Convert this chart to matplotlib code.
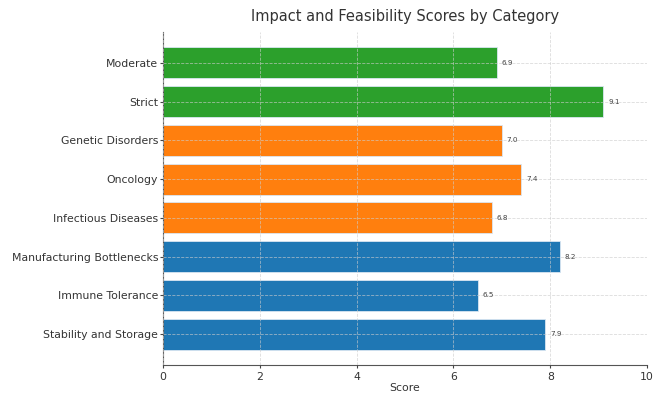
import matplotlib.pyplot as plt

categories = ["Stability and Storage", "Immune Tolerance", "Manufacturing Bottlenecks",
              "Infectious Diseases", "Oncology", "Genetic Disorders", "Strict", "Moderate"]
scores = [7.9, 6.5, 8.2, 6.8, 7.4, 7.0, 9.1, 6.9]
groups = ["blue", "blue", "blue", "orange", "orange", "orange", "green", "green"]
color_map = {"blue": "#1f77b4", "orange": "#ff7f0e", "green": "#2ca02c"}

fig = plt.figure(figsize=(6.53, 3.93), dpi=100)
ax = fig.add_axes([0.2496, 0.0712, 0.7412, 0.848])

ypos = range(len(categories))
bars = ax.barh(ypos, scores, height=0.8, color=[color_map[g] for g in groups],
               edgecolor="#d9e6f2", linewidth=0.6)
for y, v in zip(ypos, scores):
    ax.text(v + 0.1, y, f"{v:.1f}", va="center", ha="left", fontsize=5.2, color="#444444")

ax.set_yticks(list(ypos))
ax.set_yticklabels(categories, fontsize=7.8, color="#333333")
ax.set_xlim(0, 10)
ax.set_ylim(-0.8, len(categories) - 1 + 0.8)
ax.set_xticks([0, 2, 4, 6, 8, 10])
ax.tick_params(axis="x", labelsize=7.8, labelcolor="#333333", color="#444444",
               direction="out", length=2, pad=3)
ax.tick_params(axis="y", color="#444444", direction="out", length=2, pad=1.5)
ax.set_xlabel("Score", fontsize=7.8, color="#333333", labelpad=1)
ax.set_title("Impact and Feasibility Scores by Category", fontsize=10.5, color="#333333", pad=8)
ax.grid(True, linestyle="--", linewidth=0.6, color="#cccccc", alpha=0.7)
ax.set_axisbelow(False)
ax.spines[["top", "right"]].set_visible(False)
for s in ["left", "bottom"]:
    ax.spines[s].set_color("#555555")

fig.savefig("out.png", dpi=100)
